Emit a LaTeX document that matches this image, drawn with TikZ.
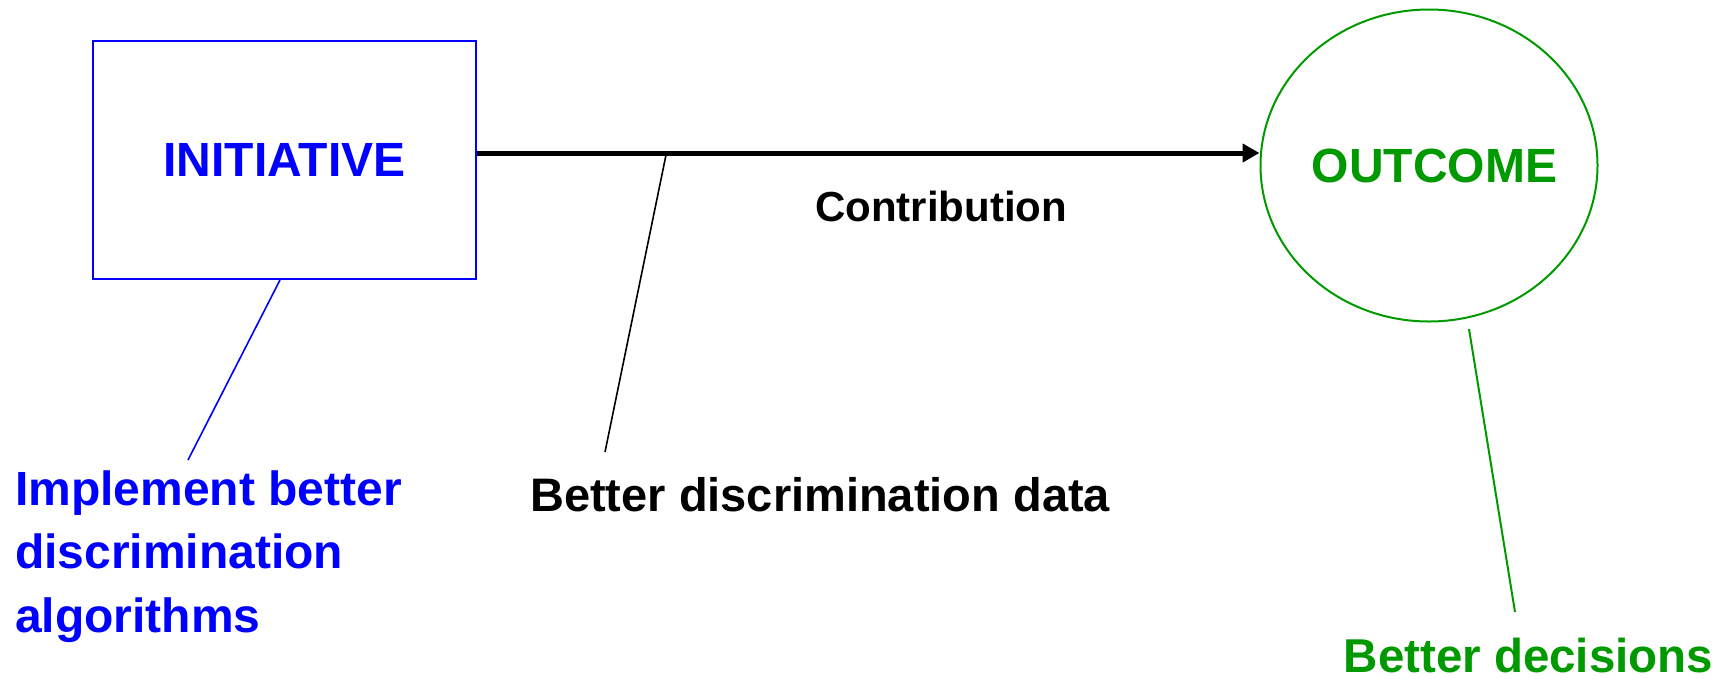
\documentclass[tikz,border=0pt]{standalone}
\usepackage{fontspec}
\setmainfont{Liberation Sans}
\usetikzlibrary{arrows.meta,shapes.geometric}
\definecolor{cblue}{RGB}{0,0,255}
\definecolor{cgreen}{RGB}{0,153,0}
\tikzset{
  initbox/.style={draw=cblue, line width=2pt, minimum width=383pt, minimum height=238pt, inner sep=0pt,
    text=cblue, font=\fontsize{48}{56}\selectfont\bfseries},
  outell/.style={ellipse, draw=cgreen, line width=2pt, minimum width=337pt, minimum height=312pt,
    inner ysep=0pt, inner xsep=-20pt,
    text=cgreen, font=\fontsize{48}{56}\selectfont\bfseries},
  contrib/.style={-{Triangle[length=17pt,width=18pt]}, line width=5pt, black},
  lbl/.style={inner sep=0pt, anchor=base west, font=\bfseries},
  callout/.style={line width=1.6pt}
}
\begin{document}
\begin{tikzpicture}[x=1pt,y=-1pt]
\useasboundingbox (0,0) rectangle (1729,678);
\node[initbox] (init) at (284.5,160) {INITIATIVE};
\node[outell] (out) at (1429,165.5) {\hspace*{11pt}OUTCOME};
\coordinate (a0) at ([yshift=7pt]init.east);
\draw[contrib] (a0) -- (a0 -| out.west);
\node[lbl, text=black, font=\fontsize{42}{50}\selectfont\bfseries] (contribution) at (815,221.7) {Contribution};
\node[lbl, text=cblue, align=left, font=\fontsize{48}{63.5}\selectfont\bfseries] (impl) at (15,632) {Implement better\\discrimination\\algorithms};
\node[lbl, text=black, font=\fontsize{47}{55}\selectfont\bfseries] (bdd) at (530,511) {Better discrimination data};
\node[lbl, text=cgreen, text depth=0pt, font=\fontsize{47.5}{55}\selectfont\bfseries] (bdec) at (1343.5,672) {Better decisions};
\coordinate (b0) at ([xshift=-4.5pt]init.south);
\coordinate (b1) at (188,460);
\draw[callout, cblue] (b0) -- (b1);
\coordinate (k0) at (666,155);
\coordinate (k1) at (605,452);
\draw[callout, black] (k0) -- (k1);
\coordinate (g0) at (1469,329);
\coordinate (g1) at (1515,612);
\draw[callout, cgreen, line width=2pt] (g0) -- (g1);
\end{tikzpicture}
\end{document}
